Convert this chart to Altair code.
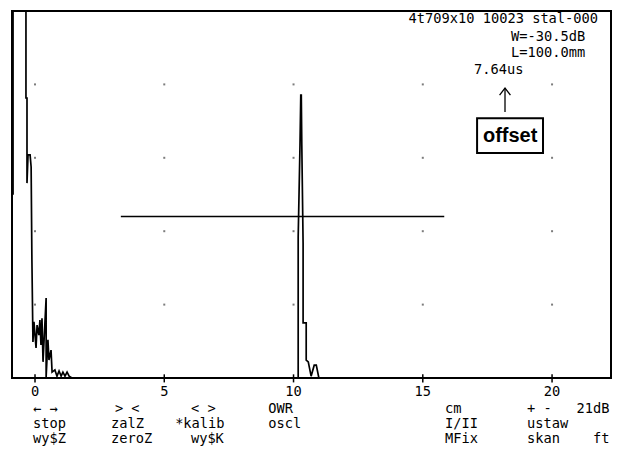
import altair as alt
import pandas as pd

MONO = "DejaVu Sans Mono"
FS = 13.7
NB = "\u00a0"

# ---- A-scan trace: time base in screen units, amplitude in % of screen height
trace_t = [-0.85, -0.85, -0.35, -0.35, -0.31, -0.31, -0.27, -0.19, -0.15, -0.12,
           -0.08, -0.04, 0.04, 0.08, 0.15, 0.19, 0.23, 0.27, 0.31, 0.43,
           0.43, 0.50, 0.54, 0.62, 0.66, 0.77, 0.85, 0.93, 1.01, 1.08,
           1.16, 1.24, 1.32, 1.43,
           10.18, 10.18, 10.25, 10.28, 10.30, 10.32, 10.37, 10.37, 10.49, 10.49,
           10.57, 10.68, 10.80, 10.88, 10.98, 22.28]
trace_a = [49.9, 100, 100, 76.3, 76.3, 53.1, 60.8, 60.8, 57.5, 32.2,
           9.8, 15.3, 8.2, 14.4, 11.7, 15.8, 9.0, 16.3, 4.4, 21.8,
           0.3, 10.4, 4.9, 7.6, 1.6, 2.2, 0.5, 1.9, 0.5, 1.6,
           0.5, 1.6, 0.5, 0.0,
           0.0, 38.4, 63.5, 77.1, 77.1, 63.5, 36.8, 15.0, 15.0, 4.9,
           4.4, 0.5, 3.5, 3.5, 0.0, 0.0]

# ---- screen and graticule
screen_t = [-0.89, 22.28]
screen_a = [0, 100]
grid_x = [0, 5, 10, 15, 20]
grid_y = [20, 40, 60, 80]
tick_labels = ["0", "5", "10", "15", "20"]

# ---- gate
gate_start, gate_end, gate_level = 3.32, 15.83, 44.0

# ---- header texts
header_text = ["4t709x10 10023 stal-000", "W=-30.5dB", "L=100.0mm"]
header_x = [21.78, 21.28, 21.28]
header_y = [97.8, 93.0, 88.6]
tof_text = "7.64us"
tof_x, tof_y = 16.98, 84.0

# ---- "offset" call-out
box_x, box_x2, box_y, box_y2 = 17.10, 19.65, 61.3, 70.8
arrow_x, arrow_y, arrow_y2 = 18.18, 72.5, 79.0
head_x = [17.97, 18.18, 18.39]
head_y = [77.1, 79.0, 77.1]
callout_text = "offset"
callout_x, callout_y = 18.38, 66.0

# ---- soft-key menu
menu_row1 = ["←" + NB + "→", ">" + NB + "<", "<" + NB + ">", "OWR", "cm",
             "+" + NB + "-" + NB * 3 + "21dB"]
menu_row2 = ["stop", "zalZ", "*kalib", "oscl", "I/II", "ustaw"]
menu_row3 = ["wy$Z", "zeroZ", "wy$K", "", "MFix", "skan" + NB * 4 + "ft"]
menu_x1 = [-0.08, 3.09, 6.03, 9.02, 15.86, 19.03]
menu_x2 = [-0.08, 2.94, 5.42, 9.02, 15.86, 19.03]
menu_x3 = [-0.08, 2.94, 6.03, 9.02, 15.86, 19.03]
menu_y = [-8.4, -12.5, -16.6]
label_y = -3.9

# ------------------------------------------------------------------
W, H = 619, 460
xs = alt.Scale(domain=screen_t, range=[12, 611], nice=False, zero=False)
ys = alt.Scale(domain=screen_a, range=[378, 11], nice=False, zero=False)


def X(f):
    return alt.X(f, type="quantitative", scale=xs, axis=None)


def Y(f):
    return alt.Y(f, type="quantitative", scale=ys, axis=None)


def text_layer(df, align, font=MONO, size=FS, weight="normal"):
    return alt.Chart(df).mark_text(
        font=font, fontSize=size, fontWeight=weight, align=align,
        baseline="middle", color="black").encode(
        x=X("x"), y=Y("y"), text=alt.Text("s", type="nominal"))


trace_df = pd.DataFrame({"t": trace_t, "a": trace_a, "i": list(range(len(trace_t)))})
grid_df = pd.DataFrame([{"x": gx, "y": gy} for gx in grid_x for gy in grid_y])
tick_df = pd.DataFrame({"x": grid_x, "y": [1.0] * 5, "y2": [-1.2] * 5})
tick_lab_df = pd.DataFrame({"x": grid_x, "y": [label_y] * 5, "s": tick_labels})

frame = alt.Chart(pd.DataFrame({"x": [screen_t[0]], "x2": [screen_t[1]],
                                "y": [screen_a[0]], "y2": [screen_a[1]]})).mark_rect(
    fill="white", stroke="black", strokeWidth=2).encode(
    x=X("x"), x2=alt.X2("x2"), y=Y("y"), y2=alt.Y2("y2"))

trace = alt.Chart(trace_df).mark_line(color="black", strokeWidth=1.7).encode(
    x=X("t"), y=Y("a"), order=alt.Order("i", type="quantitative"))

dots = alt.Chart(grid_df).mark_square(size=4, color="#444444").encode(
    x=X("x"), y=Y("y"))

ticks = alt.Chart(tick_df).mark_rule(color="black", strokeWidth=1.5).encode(
    x=X("x"), y=Y("y"), y2=alt.Y2("y2"))

tick_text = text_layer(tick_lab_df, "center")

gate = alt.Chart(pd.DataFrame({"x": [gate_start], "x2": [gate_end], "y": [gate_level]})).mark_rule(
    color="black", strokeWidth=1.3).encode(
    x=X("x"), x2=alt.X2("x2"), y=Y("y"))

header = text_layer(pd.DataFrame({"x": header_x, "y": header_y, "s": header_text}), "right")
tof = text_layer(pd.DataFrame({"x": [tof_x], "y": [tof_y], "s": [tof_text]}), "left")

box = alt.Chart(pd.DataFrame({"x": [box_x], "x2": [box_x2], "y": [box_y], "y2": [box_y2]})).mark_rect(
    fill="white", stroke="black", strokeWidth=2).encode(
    x=X("x"), x2=alt.X2("x2"), y=Y("y"), y2=alt.Y2("y2"))

callout = text_layer(pd.DataFrame({"x": [callout_x], "y": [callout_y], "s": [callout_text]}),
                     "center", font="Liberation Sans", size=20, weight="bold")

shaft = alt.Chart(pd.DataFrame({"x": [arrow_x], "y": [arrow_y], "y2": [arrow_y2]})).mark_rule(
    color="black", strokeWidth=1.3).encode(
    x=X("x"), y=Y("y"), y2=alt.Y2("y2"))

head = alt.Chart(pd.DataFrame({"x": head_x, "y": head_y, "i": [0, 1, 2]})).mark_line(
    color="black", strokeWidth=1.3).encode(
    x=X("x"), y=Y("y"), order=alt.Order("i", type="quantitative"))

menu_rows = []
for row, xrow, yv in zip([menu_row1, menu_row2, menu_row3], [menu_x1, menu_x2, menu_x3], menu_y):
    for s, xv in zip(row, xrow):
        if s:
            menu_rows.append({"x": xv, "y": yv, "s": s})
menu = text_layer(pd.DataFrame(menu_rows), "left")

chart = alt.layer(frame, dots, gate, ticks, trace, tick_text, header, tof, box,
                  callout, shaft, head, menu).properties(
    width=W, height=H,
    autosize=alt.AutoSizeParams(type="none"),
    padding=0,
    background="white",
).configure_view(stroke=None)

chart.save("out.html", embed_options={"renderer": "svg", "actions": False})
